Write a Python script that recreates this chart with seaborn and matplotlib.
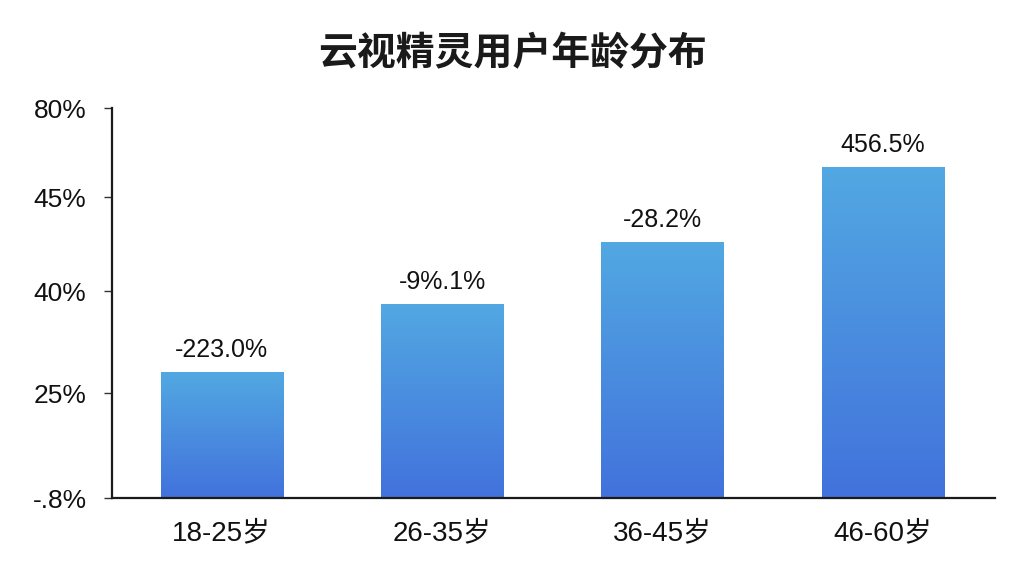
import numpy as np
import pandas as pd
import matplotlib
matplotlib.use('Agg')
import matplotlib.pyplot as plt
import seaborn as sns
from matplotlib.colors import LinearSegmentedColormap

# data
age_groups = ['18-25岁', '26-35岁', '36-45岁', '46-60岁']
share = [25.8, 39.8, 52.5, 67.9]
bar_labels = ['-223.0%', '-9%.1%', '-28.2%', '456.5%']
ytick_pos = [0, 21.5, 42.5, 61.7, 80]
ytick_labels = ['-.8%', '25%', '40%', '45%', '80%']

df = pd.DataFrame({'age': age_groups, 'share': share})

sns.set_theme(style='white')
fonts = ['Liberation Sans', 'Noto Sans CJK SC', 'DejaVu Sans']
plt.rcParams['font.family'] = fonts

fig = plt.figure(figsize=(10.24, 5.76), dpi=100)
ax = fig.add_axes([0.109, 0.135, 0.863, 0.677])

sns.barplot(data=df, x='age', y='share', color='#4a90e0', width=0.555, ax=ax)

# vertical gradient on each bar
cmap = LinearSegmentedColormap.from_list('blues', ['#4272dc', '#52a8e2'])
grad = np.linspace(0, 1, 256).reshape(-1, 1)
for patch in ax.patches:
    x0, y0 = patch.get_x(), patch.get_y()
    w, h = patch.get_width(), patch.get_height()
    patch.set_facecolor('none')
    patch.set_edgecolor('none')
    im = ax.imshow(grad, cmap=cmap, origin='lower', aspect='auto',
                   extent=[x0, x0 + w, y0, y0 + h], zorder=2)
    im.set_clip_path(patch)

for i, (v, lab) in enumerate(zip(share, bar_labels)):
    ax.text(i, v + 2.2, lab, ha='center', va='bottom', fontsize=18, color='#111111')

ax.set_xlim(-0.5, 3.51)
ax.set_ylim(0, 80)
ax.set_yticks(ytick_pos)
ax.set_yticklabels(ytick_labels, fontsize=19, color='#111111')
ax.tick_params(axis='y', left=True, length=6, width=1, color='#333333', pad=12)
ax.tick_params(axis='x', bottom=False, labelsize=20, labelcolor='#111111', pad=10)
ax.set_xlabel('')
ax.set_ylabel('')

for side in ['top', 'right']:
    ax.spines[side].set_visible(False)
for side in ['left', 'bottom']:
    ax.spines[side].set_color('#1a1a1a')
    ax.spines[side].set_linewidth(1.6)

fig.suptitle('云视精灵用户年龄分布', x=0.5, y=0.94, fontsize=28, fontweight='bold',
             color='#1a1a1a', family=['Noto Sans CJK SC', 'DejaVu Sans'])

fig.savefig('out.png', dpi=100)
